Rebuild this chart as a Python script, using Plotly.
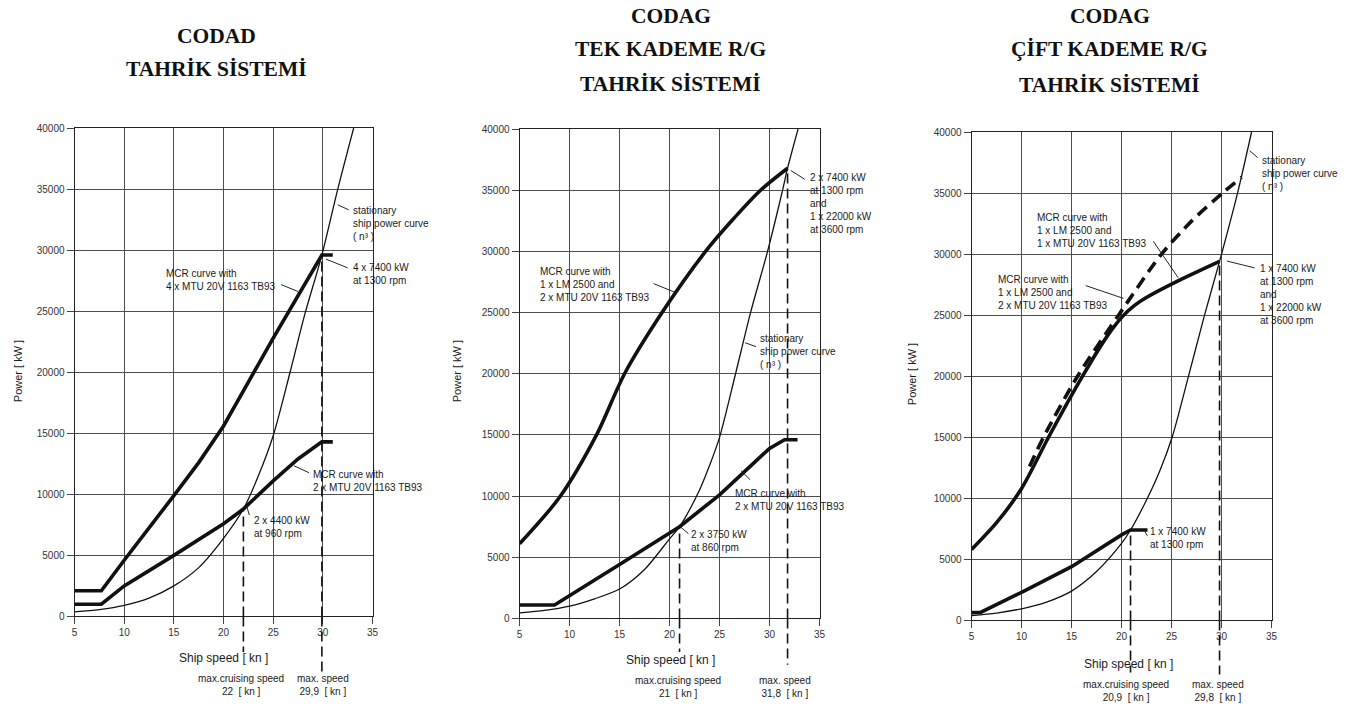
import plotly.graph_objects as go

W, H = 1359, 715

# ---------------- shared axis ticks ----------------
speed_ticks = [5, 10, 15, 20, 25, 30, 35]
power_ticks = [0, 5000, 10000, 15000, 20000, 25000, 30000, 35000, 40000]

# ---------------- CODAD ----------------
codad_stat_speed = [5, 7.5, 10, 12.5, 15, 17.5, 20, 22, 23.5, 25, 26.7, 28.2, 29.9, 31.5, 33.1]
codad_stat_power = [380, 560, 900, 1500, 2500, 4000, 6400, 8800, 11500, 14800, 20000, 24800, 29600, 35000, 40000]
codad_4mtu_speed = [5, 7.7, 10, 12.5, 15, 17.5, 20, 22.5, 25, 29.9, 31.0]
codad_4mtu_power = [2100, 2100, 4600, 7200, 9900, 12600, 15600, 19200, 22800, 29600, 29600]
codad_2mtu_speed = [5, 7.7, 10, 15, 20, 22, 25, 27.5, 29.9, 31.0]
codad_2mtu_power = [1000, 1000, 2500, 5000, 7600, 8800, 11100, 12900, 14300, 14300]
codad_cruise = 22
codad_cruise_power = 8800
codad_max = 29.9
codad_max_power = 29600

# ---------------- CODAG, single-stage gear ----------------
tek_stat_speed = [5, 7.5, 10, 12.5, 15, 17.5, 20, 21, 23, 24, 25, 26.6, 28.1, 29.8, 31.3, 31.8, 32.85]
tek_stat_power = [450, 650, 1000, 1600, 2400, 4000, 6500, 7500, 10500, 12500, 14800, 20000, 25000, 30000, 35000, 36800, 40000]
tek_lm_speed = [5, 9, 12.7, 15.5, 19.25, 23.6, 26.1, 29.1, 31.8]
tek_lm_power = [6100, 9900, 15000, 20000, 25000, 30000, 32400, 35000, 36800]
tek_2mtu_speed = [5, 8.5, 15, 20, 21, 25, 30, 31.5, 32.8]
tek_2mtu_power = [1100, 1100, 4400, 7000, 7500, 10100, 13900, 14600, 14600]
tek_cruise = 21
tek_cruise_power = 7500
tek_max = 31.8
tek_max_power = 36800

# ---------------- CODAG, two-stage gear ----------------
cift_stat_speed = [5, 7.5, 10, 12.5, 15, 17.5, 20, 20.9, 22.4, 23.8, 25.06, 26.6, 28.3, 29.8, 31.6, 33.0]
cift_stat_power = [400, 600, 950, 1500, 2400, 4000, 6300, 7400, 9700, 12200, 15000, 19700, 25000, 29400, 35000, 40000]
cift_lm2_speed = [5, 7.5, 10, 12.7, 16.1, 18.5, 20.1, 21.3, 22.4, 25.4, 29.8]
cift_lm2_power = [5800, 8000, 10800, 15000, 20000, 23200, 24900, 25800, 26400, 27700, 29400]
cift_lm1_speed = [10.8, 12.2, 15.6, 19.7, 24.0, 27.0, 30.1, 32.0]
cift_lm1_power = [12600, 15000, 20000, 25000, 30000, 32700, 35000, 36300]
cift_1mtu_speed = [5, 5.9, 10, 15, 20, 20.9, 22.6]
cift_1mtu_power = [650, 650, 2300, 4400, 7000, 7400, 7400]
cift_cruise = 20.9
cift_cruise_power = 7400
cift_max = 29.8
cift_max_power = 29400

INK = "#111111"
SANS = "Liberation Sans, Arial, sans-serif"
SERIF = "Liberation Serif, Times New Roman, serif"


def fx(x):
    return x / W


def fy(y):
    return 1 - y / H


panels = [(72, 372, 125, 621), (520, 822, 126, 623), (975, 1277, 129, 625)]

fig = go.Figure()

layout_axes = {}
for i, (x0, x1, y0, y1) in enumerate(panels, start=1):
    s = "" if i == 1 else str(i)
    common = dict(
        showgrid=True, gridcolor="#4d4d4d", gridwidth=1,
        showline=True, linecolor="#222222", linewidth=1, mirror=True,
        ticks="outside", ticklen=7, tickcolor="#444444", tickwidth=1,
        zeroline=False, tickfont=dict(family=SANS, size=10, color="#333333"),
        fixedrange=True,
    )
    layout_axes[f"xaxis{s}"] = dict(
        domain=[fx(x0), fx(x1)], anchor=f"y{s}", range=[5, 35],
        tickmode="array", tickvals=speed_ticks, ticktext=[str(v) for v in speed_ticks],
        **common,
    )
    layout_axes[f"yaxis{s}"] = dict(
        domain=[fy(y1), fy(y0)], anchor=f"x{s}", range=[0, 40000],
        tickmode="array", tickvals=power_ticks, ticktext=[str(v) for v in power_ticks],
        **common,
    )


def curve(xs, ys, k, width, shape="linear", dash="solid"):
    s = "" if k == 1 else str(k)
    fig.add_trace(go.Scatter(
        x=xs, y=ys, mode="lines", xaxis=f"x{s}", yaxis=f"y{s}",
        line=dict(color=INK, width=width, shape=shape, dash=dash, smoothing=0.8),
        showlegend=False, hoverinfo="skip",
    ))


# stationary ship power curves (thin)
curve(codad_stat_speed, codad_stat_power, 1, 1.3, "spline")
curve(tek_stat_speed, tek_stat_power, 2, 1.3, "spline")
curve(cift_stat_speed, cift_stat_power, 3, 1.3, "spline")
# MCR curves (heavy)
curve(codad_4mtu_speed, codad_4mtu_power, 1, 3.6)
curve(codad_2mtu_speed, codad_2mtu_power, 1, 3.6)
curve(tek_lm_speed, tek_lm_power, 2, 3.6, "spline")
curve(tek_2mtu_speed, tek_2mtu_power, 2, 3.6)
curve(cift_lm2_speed, cift_lm2_power, 3, 3.6, "spline")
curve(cift_lm1_speed, cift_lm1_power, 3, 3.6, "spline", "12px,7px")
curve(cift_1mtu_speed, cift_1mtu_power, 3, 3.6)

shapes = []


def speed_marker(k, speed, power, below):
    s = "" if k == 1 else str(k)
    style = dict(color=INK, width=1.6, dash="10px,5px")
    shapes.append(dict(type="line", xref=f"x{s}", yref=f"y{s}", x0=speed, x1=speed,
                       y0=0, y1=power, line=style))
    shapes.append(dict(type="line", xref=f"x{s}", yref=f"y{s} domain", x0=speed, x1=speed,
                       y0=0, y1=-below, line=style))


speed_marker(1, codad_cruise, codad_cruise_power, 36 / 496)
speed_marker(1, codad_max, codad_max_power, 56 / 496)
speed_marker(2, tek_cruise, tek_cruise_power, 34 / 497)
speed_marker(2, tek_max, tek_max_power, 47 / 497)
speed_marker(3, cift_cruise, cift_cruise_power, 53 / 496)
speed_marker(3, cift_max, cift_max_power, 55 / 496)

# leader lines from labels to curves
leaders = [
    (337, 203, 348, 208), (325, 258, 347, 267), (280, 284, 297, 291),
    (293, 468, 308, 475), (245, 508, 248, 518),
    (793, 168, 807, 177), (655, 283, 677, 292), (747, 343, 758, 347),
    (743, 473, 752, 482), (682, 530, 690, 537),
    (1255, 148, 1263, 155), (1158, 240, 1183, 277), (1090, 285, 1128, 298),
    (1232, 260, 1260, 267), (1149, 534, 1152, 539),
]
for (a, b, c, d) in leaders:
    shapes.append(dict(type="line", xref="paper", yref="paper",
                       x0=fx(a), y0=fy(b), x1=fx(c), y1=fy(d),
                       line=dict(color="#222222", width=1)))

annotations = []


def note(text, x, y, size=10, xanchor="left", align="left", yanchor="top", angle=0,
         family=SANS, color="#1a1a1a"):
    annotations.append(dict(
        text=text, x=fx(x), y=fy(y), xref="paper", yref="paper",
        xanchor=xanchor, yanchor=yanchor, align=align, showarrow=False,
        textangle=angle, font=dict(family=family, size=size, color=color),
    ))


# titles
def title(lines, cx, ys):
    for t, y in zip(lines, ys):
        note(f"<b>{t}</b>", cx, y, size=21.5, xanchor="center", align="center",
             yanchor="middle", family=SERIF, color="#111111")


title(["CODAD", "TAHRİK SİSTEMİ"], 215, [31, 65])
title(["CODAG", "TEK KADEME R/G", "TAHRİK SİSTEMİ"], 672, [11, 45, 80])
title(["CODAG", "ÇİFT KADEME R/G", "TAHRİK SİSTEMİ"], 1114, [11, 45, 81])

STAT = "stationary<br>ship power curve<br>( n³ )"

# CODAD labels
note(STAT, 350, 201)
note("4 x 7400 kW<br>at 1300 rpm", 350, 259)
note("MCR curve with<br>4 x MTU 20V 1163 TB93", 162, 265)
note("MCR curve with<br>2 x MTU 20V 1163 TB93", 310, 469)
note("2 x 4400 kW<br>at 960 rpm", 251, 516)
note("Ship speed [ kn ]", 222, 663, size=12, xanchor="center", yanchor="middle")
note("max.cruising speed<br>22  [ kn ]", 240, 676, xanchor="center", align="center")
note("max. speed<br>29,9  [ kn ]", 322, 676, xanchor="center", align="center")
note("Power [ kW ]", 15, 372, size=11, xanchor="center", yanchor="middle", angle=-90)

# CODAG single-stage labels
note("2 x 7400 kW<br>at 1300 rpm<br>and<br>1 x 22000 kW<br>at 3600 rpm", 810, 168)
note("MCR curve with<br>1 x LM 2500 and<br>2 x MTU 20V 1163 TB93", 539, 263)
note(STAT, 760, 331)
note("MCR curve with<br>2 x MTU 20V 1163 TB93", 735, 489)
note("2 x 3750 kW<br>at 860 rpm", 691, 530)
note("Ship speed [ kn ]", 672, 665, size=12, xanchor="center", yanchor="middle")
note("max.cruising speed<br>21  [ kn ]", 680, 678, xanchor="center", align="center")
note("max. speed<br>31,8  [ kn ]", 787, 678, xanchor="center", align="center")
note("Power [ kW ]", 457, 372, size=11, xanchor="center", yanchor="middle", angle=-90)

# CODAG two-stage labels
note(STAT, 1265, 150)
note("MCR curve with<br>1 x LM 2500 and<br>1 x MTU 20V 1163 TB93", 1039, 208)
note("MCR curve with<br>1 x LM 2500 and<br>2 x MTU 20V 1163 TB93", 1000, 271)
note("1 x 7400 kW<br>at 1300 rpm<br>and<br>1 x 22000 kW<br>at 3600 rpm", 1263, 260)
note("1 x 7400 kW<br>at 1300 rpm", 1153, 527)
note("Ship speed [ kn ]", 1133, 669, size=12, xanchor="center", yanchor="middle")
note("max.cruising speed<br>20,9  [ kn ]", 1130, 683, xanchor="center", align="center")
note("max. speed<br>29,8  [ kn ]", 1223, 683, xanchor="center", align="center")
note("Power [ kW ]", 915, 375, size=11, xanchor="center", yanchor="middle", angle=-90)

fig.update_layout(
    width=W, height=H, margin=dict(l=0, r=0, t=0, b=0),
    paper_bgcolor="white", plot_bgcolor="white",
    shapes=shapes, annotations=annotations, **layout_axes,
)

fig.write_html("out.html", config=dict(displayModeBar=False))
